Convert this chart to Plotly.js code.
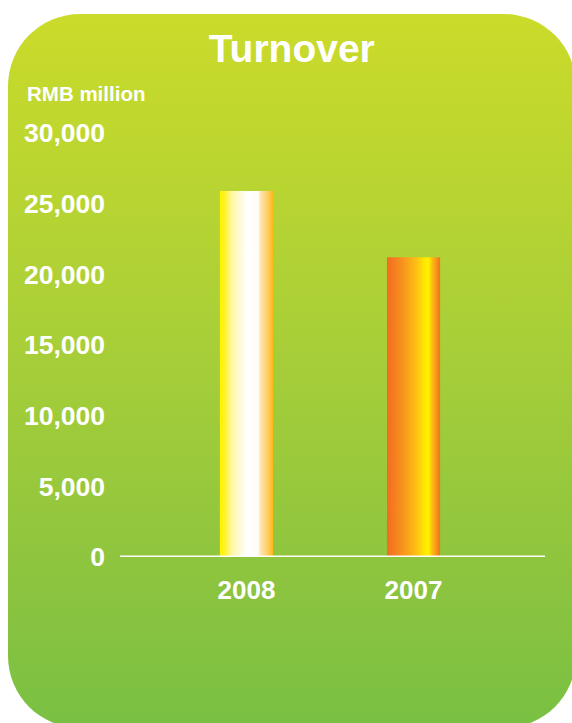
<!DOCTYPE html>
<html>
<head>
<meta charset="utf-8">
<script src="https://cdn.plot.ly/plotly-3.0.1.min.js"></script>
<style>
  html, body { margin: 0; padding: 0; width: 572px; height: 723px; overflow: hidden; background: #ffffff; }
  #bg { position: absolute; left: 8px; top: 14px; width: 568px; height: 714px; border-radius: 72px;
        background: linear-gradient(to bottom, #cbdb2a 0%, #a9cf38 45%, #8cc43f 80%, #79c043 100%); }
  #chart { position: absolute; left: 0; top: 0; width: 572px; height: 723px; }
</style>
</head>
<body>
<div id="bg"></div>
<div id="chart"></div>
<script>
// ---- data ----
const categories = ['2008', '2007'];
const turnover = [25900, 21200];          // RMB million
const yTickValues = [0, 5000, 10000, 15000, 20000, 25000, 30000];
const yTickLabels = ['0', '5,000', '10,000', '15,000', '20,000', '25,000', '30,000'];
const chartTitle = 'Turnover';
const unitLabel = 'RMB million';

// ---- styles ----
const FONT = 'Liberation Sans, Arial, Helvetica, sans-serif';
const halfWidth = 0.159;
const barScales = [
  [[0, '#fff200'], [0.08, '#fff31c'], [0.22, '#fff6a2'], [0.4, '#fffbe0'], [0.52, '#ffffff'],
   [0.72, '#fffdf6'], [0.76, '#fde6b6'], [0.88, '#fed173'], [1, '#fdb913']],
  [[0, '#f36b21'], [0.3, '#f7941d'], [0.55, '#fdbe15'], [0.7, '#ffe500'], [0.78, '#fff200'],
   [0.86, '#fdb813'], [1, '#f37021']]
];
const fallback = ['#fff6b0', '#f7941d'];

const traces = categories.map((cat, i) => {
  const v = turnover[i];
  return {
    type: 'scatter',
    mode: 'lines',
    x: [i - halfWidth, i + halfWidth, i + halfWidth, i - halfWidth, i - halfWidth],
    y: [0, 0, v, v, 0],
    fill: 'toself',
    fillcolor: fallback[i],
    fillgradient: { type: 'horizontal', colorscale: barScales[i] },
    line: { width: 0 },
    hoveron: 'fills',
    name: cat,
    text: cat + ': ' + v.toLocaleString('en-US'),
    hoverinfo: 'text',
    showlegend: false
  };
});

const layout = {
  width: 572,
  height: 723,
  paper_bgcolor: 'rgba(0,0,0,0)',
  plot_bgcolor: 'rgba(0,0,0,0)',
  margin: { l: 120, r: 27, t: 133, b: 166 },
  font: { family: FONT, color: '#ffffff', weight: 'bold' },
  title: {
    text: chartTitle,
    x: 0.51, xanchor: 'center',
    y: 1 - 48 / 723, yanchor: 'middle', yref: 'container',
    font: { family: FONT, size: 39, color: '#ffffff', weight: 'bold' }
  },
  xaxis: {
    range: [-0.757, 1.787],
    tickvals: categories.map((c, i) => i),
    ticktext: categories,
    showgrid: false, zeroline: false, showline: false,
    ticks: '',
    ticklabelstandoff: 15,
    tickfont: { family: FONT, size: 26, color: '#ffffff', weight: 'bold' },
    fixedrange: true
  },
  yaxis: {
    range: [0, 30000],
    tickvals: yTickValues,
    ticktext: yTickLabels,
    showgrid: false, zeroline: false, showline: false,
    ticks: '',
    ticklabelstandoff: 14,
    tickfont: { family: FONT, size: 26.5, color: '#ffffff', weight: 'bold' },
    fixedrange: true
  },
  shapes: [{
    type: 'line', xref: 'paper', yref: 'y',
    x0: 0, x1: 1, y0: 0, y1: 0,
    line: { color: '#ffffff', width: 3 },
    layer: 'above'
  }],
  annotations: [{
    text: unitLabel,
    xref: 'paper', yref: 'paper',
    x: (25 - 120) / 425, xanchor: 'left',
    y: (557 - 93.5) / 424, yanchor: 'middle',
    showarrow: false,
    font: { family: FONT, size: 20.5, color: '#ffffff', weight: 'bold' }
  }]
};

Plotly.newPlot('chart', traces, layout, { displayModeBar: false, staticPlot: false });
</script>
</body>
</html>
